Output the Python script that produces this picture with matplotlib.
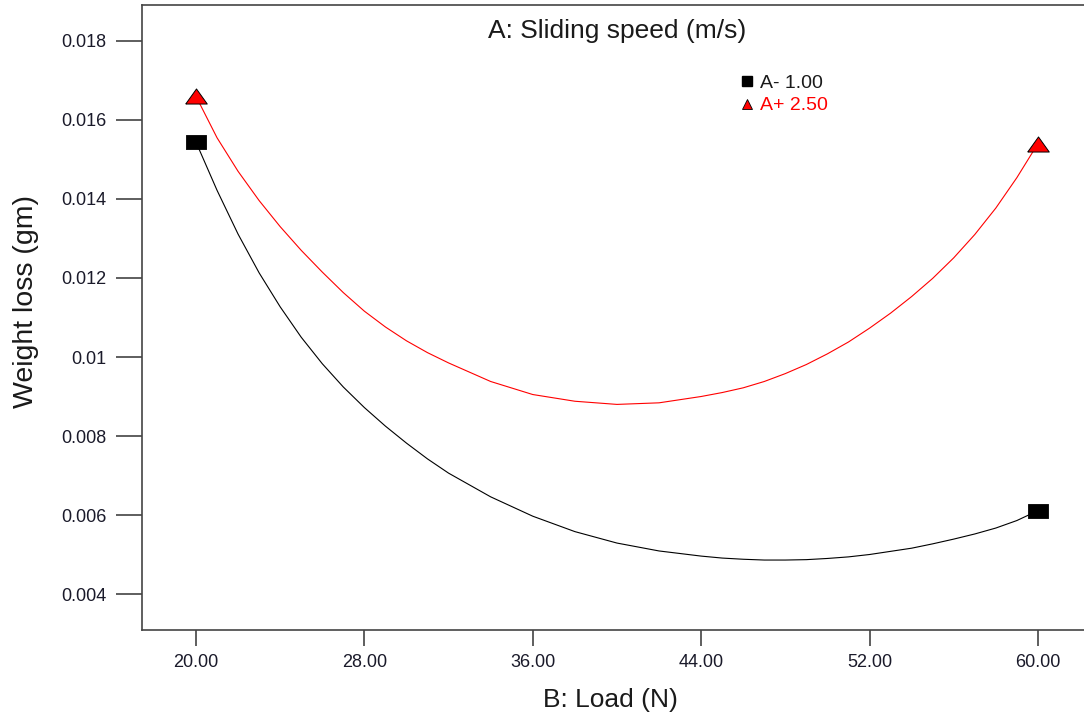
import numpy as np
import matplotlib
matplotlib.use("Agg")
import matplotlib.pyplot as plt
from matplotlib.lines import Line2D

plt.rcParams['font.family'] = ['Liberation Sans', 'DejaVu Sans']

# B: Load (N)
load = [20, 21, 22, 23, 24, 25, 26, 27, 28, 29, 30, 31, 32, 34, 36, 38, 40,
        42, 44, 45, 46, 47, 48, 49, 50, 51, 52, 53, 54, 55, 56, 57, 58, 59, 60]

# predicted weight loss (gm) at A- (1.00 m/s) and A+ (2.50 m/s)
wl_low = [0.01544, 0.01422, 0.01311, 0.01213, 0.01127, 0.01050, 0.00983,
          0.00924, 0.00872, 0.00825, 0.00782, 0.00742, 0.00706, 0.00646,
          0.00597, 0.00558, 0.00529, 0.00509, 0.00496, 0.00491, 0.00488,
          0.00486, 0.00486, 0.00487, 0.00490, 0.00494, 0.00500, 0.00508,
          0.00516, 0.00527, 0.00539, 0.00552, 0.00567, 0.00586, 0.00611]
wl_high = [0.01660, 0.01555, 0.01470, 0.01396, 0.01330, 0.01270, 0.01215,
           0.01163, 0.01116, 0.01076, 0.01041, 0.01011, 0.00985, 0.00938,
           0.00905, 0.00888, 0.00880, 0.00884, 0.00900, 0.00910, 0.00922,
           0.00938, 0.00958, 0.00981, 0.01008, 0.01038, 0.01073, 0.01111,
           0.01153, 0.01199, 0.01251, 0.01310, 0.01377, 0.01454, 0.01540]

x_ticks = [20, 28, 36, 44, 52, 60]
x_ticklabels = ['20.00', '28.00', '36.00', '44.00', '52.00', '60.00']
y_ticks = [0.004, 0.006, 0.008, 0.010, 0.012, 0.014, 0.016, 0.018]
y_ticklabels = ['0.004', '0.006', '0.008', '0.01', '0.012', '0.014', '0.016', '0.018']

# wide box and wide triangle for the design points
box = [(-1, -0.63), (1, -0.63), (1, 0.63), (-1, 0.63), (-1, -0.63)]
tri = [(-1, -0.7), (1, -0.7), (0, 0.7), (-1, -0.7)]

fig = plt.figure(figsize=(10.84, 7.19), dpi=100)
ax = fig.add_axes([142 / 1084, 89 / 719, 958 / 1084, 625 / 719])

ends = [0, len(load) - 1]
ax.plot(load, wl_low, color='black', lw=0.8, marker=box, markersize=15,
        markerfacecolor='black', markeredgecolor='black', markeredgewidth=0.6,
        markevery=ends)
ax.plot(load, wl_high, color='#ff0000', lw=0.8, marker=tri, markersize=15.5,
        markerfacecolor='#ff0000', markeredgecolor='black', markeredgewidth=0.7,
        markevery=ends)

ax.set_xlim(17.435, 62.95)
ax.set_ylim(0.003089, 0.018911)
ax.set_xticks(x_ticks)
ax.set_xticklabels(x_ticklabels)
ax.set_yticks(y_ticks)
ax.set_yticklabels(y_ticklabels)

ax.tick_params(axis='y', direction='out', length=19, width=1.1, pad=6.5,
               labelsize=13, colors='#333333', labelcolor='#1a1a2a')
ax.tick_params(axis='x', direction='out', length=11.5, width=1.1, pad=6,
               labelsize=13, colors='#333333', labelcolor='#1a1a2a')
for s in ax.spines.values():
    s.set_color('#444444')
    s.set_linewidth(1.2)

ax.set_xlabel('B: Load (N)', fontsize=19, color='#1a1a1a')
ax.xaxis.set_label_coords(0.4885, -0.0928)
ax.set_ylabel('Weight loss (gm)', fontsize=20.5, color='#1a1a1a')
ax.yaxis.set_label_coords(-0.1075, 0.5264)

fig.text(617 / 1084, 1 - 31 / 719, 'A: Sliding speed (m/s)', fontsize=19,
         ha='center', va='center', color='#1a1a1a')

handles = [Line2D([], [], ls='none', marker='s', markersize=6.5, color='black'),
           Line2D([], [], ls='none', marker='^', markersize=7,
                  markerfacecolor='#ff0000', markeredgecolor='black', markeredgewidth=0.6)]
ax.legend(handles, ['A- 1.00', 'A+ 2.50'], loc='upper left',
          bbox_to_anchor=(740.2 / 1084, 1 - 74 / 719), bbox_transform=fig.transFigure,
          frameon=False, fontsize=14, borderpad=0, borderaxespad=0,
          handlelength=0.7, handletextpad=0.32, labelspacing=0.27,
          labelcolor=['#1a1a1a', '#ff0000'])

fig.savefig('out.png', dpi=100)
